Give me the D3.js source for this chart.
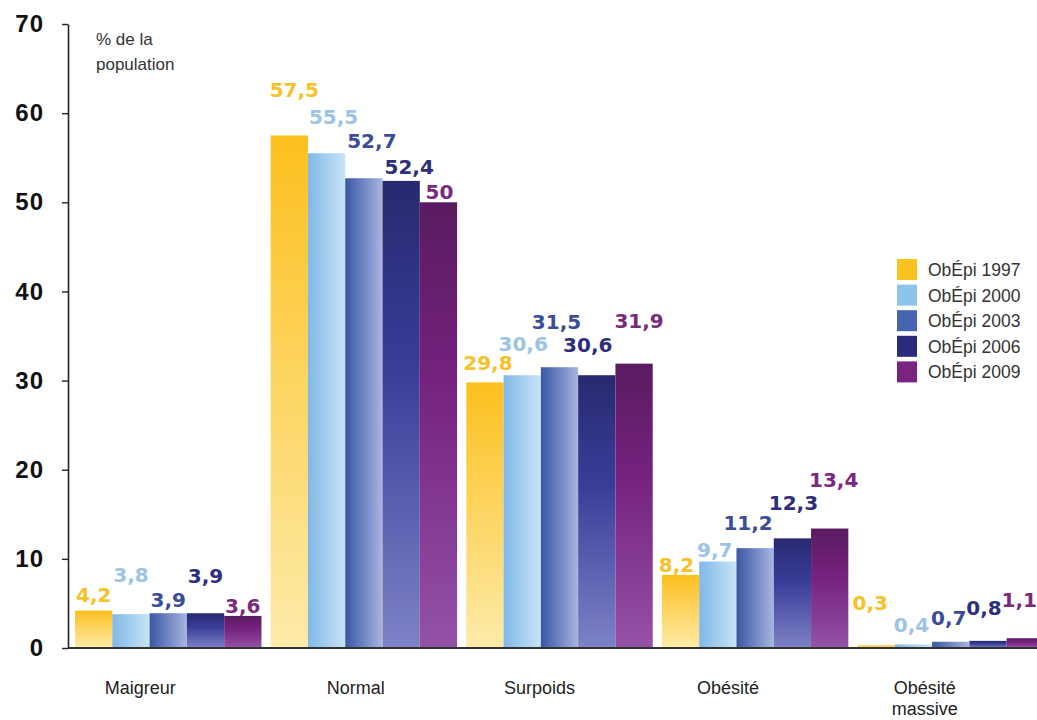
<!DOCTYPE html>
<html>
<head>
<meta charset="utf-8">
<script src="https://cdn.jsdelivr.net/npm/d3@7/dist/d3.min.js"></script>
<style>
  html, body { margin: 0; padding: 0; background: #fff; }
  svg { display: block; }
</style>
</head>
<body>
<svg id="chart" width="1037" height="720"></svg>
<script>
// Corpulence categories and survey waves
const categories = ["Maigreur", "Normal", "Surpoids", "Obésité", "Obésité massive"];
const series = ["ObÉpi 1997", "ObÉpi 2000", "ObÉpi 2003", "ObÉpi 2006", "ObÉpi 2009"];

// Share of the population (%) per category, one array per wave
const obepi1997 = [4.2, 57.5, 29.8, 8.2, 0.3];
const obepi2000 = [3.8, 55.5, 30.6, 9.7, 0.4];
const obepi2003 = [3.9, 52.7, 31.5, 11.2, 0.7];
const obepi2006 = [3.9, 52.4, 30.6, 12.3, 0.8];
const obepi2009 = [3.6, 50, 31.9, 13.4, 1.1];
const values = [obepi1997, obepi2000, obepi2003, obepi2006, obepi2009];

const yTicks = [0, 10, 20, 30, 40, 50, 60, 70];
const yTitle = ["% de la", "population"];

// ---- styling ----
const gradients = [
  { dir: "v", stops: [[0, "#fcc01e"], [1, "#fdeba9"]] },
  { dir: "h", stops: [[0, "#80b8e6"], [1, "#c8e4f8"]] },
  { dir: "h", stops: [[0, "#3a58a4"], [0.5, "#7085c4"], [1, "#a8b7df"]] },
  { dir: "v", stops: [[0, "#27296f"], [0.4, "#3a3d98"], [1, "#7e82c6"]] },
  { dir: "v", stops: [[0, "#5a1b60"], [0.4, "#74227e"], [1, "#9452a6"]] }
];
const swatchColors = ["#f9c31e", "#8ec3ec", "#4565b0", "#2a2b7a", "#7a2380"];
const labelColors = ["#f6c22c", "#9dc3e6", "#3b4d97", "#2d2e7c", "#7a2a7e"];

// value-label placement: [horizontal shift, lift above bar top] per category x wave
const labelNudge = [
  [[0, 9], [0, 32], [0, 6], [0, 30], [0, 3]],
  [[5, 38], [7, 29], [8, 30], [8, 7], [1, 3]],
  [[3, 12], [1, 24], [-3, 38], [-9, 23], [5, 36]],
  [[-4, 3], [-3, 5], [-7, 18], [1, 28], [4, 42]],
  [[-6, 35], [-2, 12], [-2, 17], [-4, 26], [-6, 31]]
];
const categoryShift = [-28, -8, -20, -27, -26];

const svg = d3.select("#chart");
const defs = svg.append("defs");

gradients.forEach((g, i) => {
  const lg = defs.append("linearGradient")
    .attr("id", "grad" + i)
    .attr("x1", 0).attr("y1", 0)
    .attr("x2", g.dir === "h" ? 1 : 0)
    .attr("y2", g.dir === "v" ? 1 : 0);
  g.stops.forEach(s => lg.append("stop").attr("offset", s[0]).attr("stop-color", s[1]));
});

const x0 = d3.scaleBand().domain(categories).range([68, 1051])
  .paddingInner(0.047).paddingOuter(0.036);
const x1 = d3.scaleBand().domain(series).range([0, x0.bandwidth()]);
const y = d3.scaleLinear().domain([0, 70]).range([648, 24]);

const fmt = v => String(v).replace(".", ",");

// bars
const groups = svg.append("g").selectAll("g")
  .data(categories)
  .join("g")
  .attr("transform", c => `translate(${x0(c)},0)`);

groups.selectAll("rect")
  .data((c, ci) => series.map((s, si) => ({ s, si, ci, v: values[si][ci] })))
  .join("rect")
  .attr("x", d => x1(d.s))
  .attr("y", d => y(d.v))
  .attr("width", x1.bandwidth())
  .attr("height", d => y(0) - y(d.v))
  .attr("fill", d => `url(#grad${d.si})`);

// value labels
groups.selectAll("text")
  .data((c, ci) => series.map((s, si) => ({ s, si, ci, v: values[si][ci] })))
  .join("text")
  .attr("x", d => x1(d.s) + x1.bandwidth() / 2 + labelNudge[d.ci][d.si][0])
  .attr("y", d => y(d.v) - labelNudge[d.ci][d.si][1])
  .attr("text-anchor", "middle")
  .attr("font-family", "'DejaVu Sans', sans-serif")
  .attr("font-weight", "bold")
  .attr("font-size", 20)
  .attr("fill", d => labelColors[d.si])
  .text(d => fmt(d.v));

// y axis
const yAxis = d3.axisLeft(y).tickValues(yTicks).tickSize(6).tickPadding(18).tickSizeOuter(0);
const ya = svg.append("g").attr("transform", "translate(68,0)").call(yAxis);
ya.select(".domain").attr("stroke", "#222").attr("stroke-width", 1.6);
ya.selectAll(".tick line").attr("stroke", "#222").attr("stroke-width", 1.4);
ya.selectAll(".tick text")
  .attr("font-family", "'Liberation Sans', Arial, sans-serif")
  .attr("font-weight", "bold")
  .attr("font-size", 24)
  .attr("letter-spacing", 1)
  .attr("fill", "#111");

// x axis baseline
svg.append("line")
  .attr("x1", 68).attr("x2", 1037)
  .attr("y1", y(0)).attr("y2", y(0))
  .attr("stroke", "#333").attr("stroke-width", 2);

// category labels
const catText = svg.append("g").selectAll("text")
  .data(categories)
  .join("text")
  .attr("x", (c, i) => x0(c) + x0.bandwidth() / 2 + categoryShift[i])
  .attr("y", 694)
  .attr("text-anchor", "middle")
  .attr("font-family", "'Liberation Sans', Arial, sans-serif")
  .attr("font-size", 18)
  .attr("fill", "#222");
catText.each(function (c) {
  const words = c === "Obésité massive" ? ["Obésité", "massive"] : [c];
  const t = d3.select(this);
  const xx = t.attr("x");
  words.forEach((w, i) => t.append("tspan").attr("x", xx).attr("dy", i ? 21 : 0).text(w));
});

// y title
svg.append("text")
  .attr("x", 96).attr("y", 45)
  .attr("font-family", "'Liberation Sans', Arial, sans-serif")
  .attr("font-size", 17)
  .attr("fill", "#333")
  .selectAll("tspan").data(yTitle).join("tspan")
  .attr("x", 96).attr("dy", (d, i) => i ? 25 : 0)
  .text(d => d);

// legend
const legend = svg.append("g").attr("transform", "translate(897,259)");
const item = legend.selectAll("g").data(series).join("g")
  .attr("transform", (d, i) => `translate(0,${i * 25.6})`);
item.append("rect").attr("width", 20).attr("height", 21).attr("fill", (d, i) => swatchColors[i]);
item.append("text")
  .attr("x", 31).attr("y", 17)
  .attr("font-family", "'Liberation Sans', Arial, sans-serif")
  .attr("font-size", 17.5)
  .attr("fill", "#333")
  .text(d => d);
</script>
</body>
</html>
